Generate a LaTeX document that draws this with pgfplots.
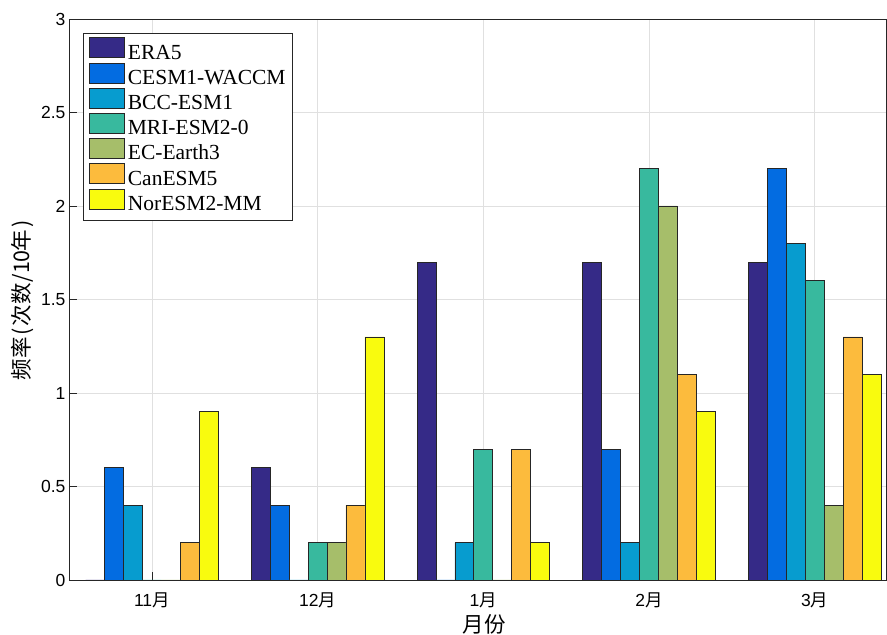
\documentclass[border=0pt]{standalone}
\usepackage{fontspec}
\setmainfont{Liberation Serif}
\newfontfamily\arialf{Liberation Sans}
\newfontfamily\cjk{Noto Sans CJK SC}
\usepackage{pgfplots}
\usepackage{pgfplotstable}
\pgfplotsset{compat=1.18}
\newcommand\hw[1]{\makebox[0.5em]{#1}}
\definecolor{c1}{RGB}{53,42,135}
\definecolor{c2}{RGB}{3,108,225}
\definecolor{c3}{RGB}{7,156,207}
\definecolor{c4}{RGB}{56,185,158}
\definecolor{c5}{RGB}{166,190,106}
\definecolor{c6}{RGB}{252,187,61}
\definecolor{c7}{RGB}{249,251,14}
\definecolor{axc}{RGB}{38,38,38}
\pgfplotstableread{
x ERA5 CESM BCC MRI EC Can Nor
1 0   0.6 0.4 0   0   0.2 0.9
2 0.6 0.4 0   0.2 0.2 0.4 1.3
3 1.7 0   0.2 0.7 0   0.7 0.2
4 1.7 0.7 0.2 2.2 2.0 1.1 0.9
5 1.7 2.2 1.8 1.6 0.4 1.3 1.1
}\datatable
\begin{document}
\begin{tikzpicture}
\useasboundingbox (-69pt,-55pt) rectangle (818pt,580pt);
\begin{axis}[
  at={(0pt,0pt)}, anchor=south west,
  scale only axis, width=817pt, height=561pt,
  xmin=0.5, xmax=5.43, ymin=0, ymax=3,
  ybar, bar width=0.114286,
  xtick={1,2,3,4,5},
  xticklabels={11{\cjk 月},12{\cjk 月},1{\cjk 月},2{\cjk 月},3{\cjk 月}},
  ytick={0,0.5,1,1.5,2,2.5,3},
  /pgf/number format/assume math mode=true,
  ticklabel style={font=\arialf\fontsize{17.5}{20}\selectfont},
  xticklabel style={yshift=-9pt},
  xtick pos=bottom, ytick pos=left, tick align=inside,
  major tick length=8pt,
  tick style={axc, line width=0.6pt},
  axis line style={axc, line width=0.8pt},
  grid=major,
  major grid style={draw=black!12, line width=0.6pt},
  xlabel={\cjk 月份},
  ylabel={\cjk 频率\hw{(}次数\hw{/}\hw{1}\hw{0}年\hw{)}},
  label style={font=\fontsize{21.5}{24}\selectfont},
  xlabel style={at={(axis description cs:0.5085,-0.08)}, anchor=center},
  ylabel style={at={(axis description cs:-0.0564,0.5)}, anchor=center},
  every axis plot/.append style={draw=black!85, line width=0.7pt},
  legend image code/.code={\draw[#1, draw=black!85] (0pt,-3.8pt) rectangle (35pt,16.2pt); \path (37pt,0pt);},
  legend style={at={(0.017,0.975)}, anchor=north west,
    draw=axc, line width=0.6pt, fill=white,
    font=\fontsize{21.5}{25}\selectfont,
    inner xsep=6pt, inner ysep=4pt,
    row sep=-2.1pt, column sep=0pt,
    nodes={inner sep=1pt, text height=15pt, text depth=4.5pt},
    cells={anchor=west}},
]
\addplot[fill=c1, bar shift=-0.342857] table[x=x,y=ERA5]{\datatable};
\addplot[fill=c2, bar shift=-0.228571] table[x=x,y=CESM]{\datatable};
\addplot[fill=c3, bar shift=-0.114286] table[x=x,y=BCC]{\datatable};
\addplot[fill=c4, bar shift=0] table[x=x,y=MRI]{\datatable};
\addplot[fill=c5, bar shift=0.114286] table[x=x,y=EC]{\datatable};
\addplot[fill=c6, bar shift=0.228571] table[x=x,y=Can]{\datatable};
\addplot[fill=c7, bar shift=0.342857] table[x=x,y=Nor]{\datatable};
\legend{ERA5,CESM1-WACCM,BCC-ESM1,MRI-ESM2-0,EC-Earth3,CanESM5,NorESM2-MM}
\end{axis}
\end{tikzpicture}
\end{document}
